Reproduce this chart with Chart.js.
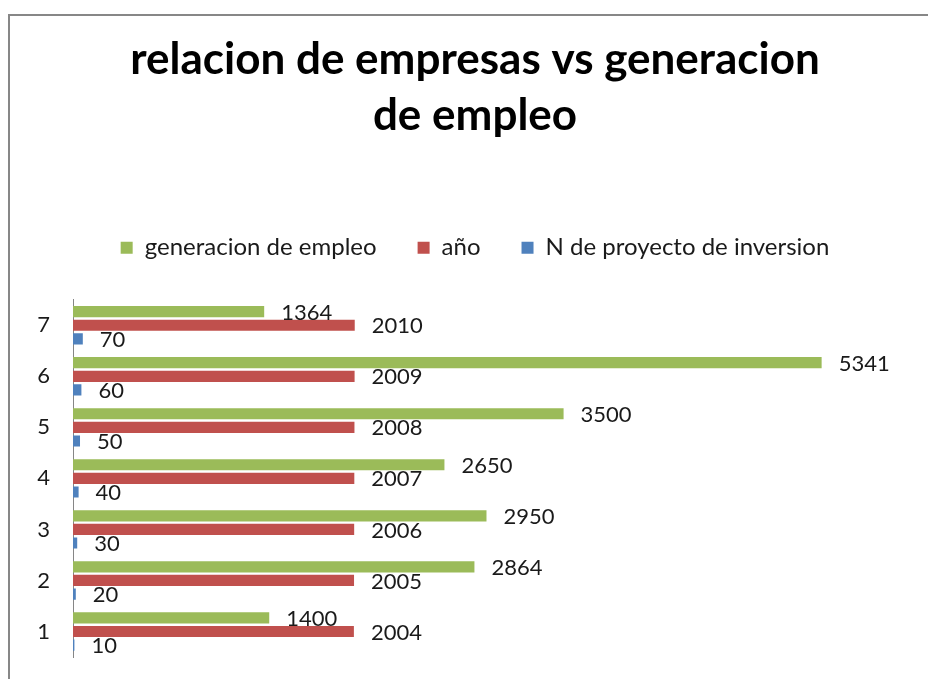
<!DOCTYPE html>
<html>
<head>
<meta charset="utf-8">
<script src="https://cdn.jsdelivr.net/npm/chart.js@4.4.0/dist/chart.umd.min.js"></script>
<style>
  html, body { margin: 0; padding: 0; background: #ffffff; }
  #wrap { width: 928px; height: 679px; position: relative; }
</style>
</head>
<body>
<div id="wrap"><canvas id="c" width="928" height="679"></canvas></div>
<script>
const categories = ['1', '2', '3', '4', '5', '6', '7'];
const generacionEmpleo = [1400, 2864, 2950, 2650, 3500, 5341, 1364];
const anio = [2004, 2005, 2006, 2007, 2008, 2009, 2010];
const proyectosInversion = [10, 20, 30, 40, 50, 60, 70];
const titleLines = ['relacion de empresas vs generacion', 'de empleo'];
const seriesNames = ['generacion de empleo', 'año', 'N de proyecto de inversion'];

const FONT = 'Lato, "Open Sans", sans-serif';

const framePlugin = {
  id: 'frame',
  beforeDraw(chart) {
    const ctx = chart.ctx;
    ctx.save();
    ctx.fillStyle = '#ffffff';
    ctx.fillRect(0, 0, chart.width, chart.height);
    ctx.strokeStyle = '#878787';
    ctx.lineWidth = 2;
    ctx.beginPath();
    ctx.moveTo(9, chart.height + 2);
    ctx.lineTo(9, 15);
    ctx.lineTo(chart.width + 2, 15);
    ctx.stroke();
    ctx.restore();
  }
};

const labelPlugin = {
  id: 'barLabels',
  afterDatasetsDraw(chart) {
    const ctx = chart.ctx;
    ctx.save();
    ctx.font = '22px ' + FONT;
    ctx.fillStyle = '#1a1a1a';
    ctx.textAlign = 'left';
    ctx.textBaseline = 'middle';
    chart.data.datasets.forEach((ds, di) => {
      const meta = chart.getDatasetMeta(di);
      meta.data.forEach((el, i) => {
        ctx.fillText(String(ds.data[i]), el.x + 17, el.y + 1);
      });
    });
    ctx.restore();
  }
};

new Chart(document.getElementById('c'), {
  type: 'bar',
  data: {
    labels: categories,
    datasets: [
      { label: seriesNames[0], data: generacionEmpleo, backgroundColor: '#9BBB59' },
      { label: seriesNames[1], data: anio, backgroundColor: '#C0504D' },
      { label: seriesNames[2], data: proyectosInversion, backgroundColor: '#4F81BD' }
    ]
  },
  options: {
    indexAxis: 'y',
    responsive: false,
    animation: false,
    devicePixelRatio: 1,
    layout: { padding: { top: 0, left: 36, right: 14, bottom: 22 } },
    datasets: { bar: { categoryPercentage: 0.8, barPercentage: 0.82 } },
    scales: {
      x: {
        display: true,
        position: 'top',
        min: 0, max: 6000,
        grid: { display: false, drawTicks: false },
        border: { display: false },
        ticks: { display: false },
        afterFit(s) { s.height = 30; s.paddingLeft = 0; s.paddingRight = 0; }
      },
      y: {
        reverse: true,
        grid: { display: false, drawTicks: false },
        border: { display: true, color: '#868686', width: 1 },
        ticks: { padding: 23, color: '#1a1a1a', font: { family: FONT, size: 22 } },
        afterFit(s) { s.width = 37; s.paddingTop = 0; s.paddingBottom = 0; }
      }
    },
    plugins: {
      title: {
        display: true,
        text: titleLines,
        color: '#000000',
        font: { family: FONT, size: 44, weight: 'bold', lineHeight: 1.27 },
        padding: { top: 32, bottom: 51 }
      },
      legend: {
        display: true,
        position: 'top',
        labels: {
          boxWidth: 12, boxHeight: 12, padding: 41,
          color: '#1a1a1a',
          font: { family: FONT, size: 24 }
        }
      },
      tooltip: { enabled: false }
    }
  },
  plugins: [framePlugin, labelPlugin]
});
</script>
</body>
</html>
